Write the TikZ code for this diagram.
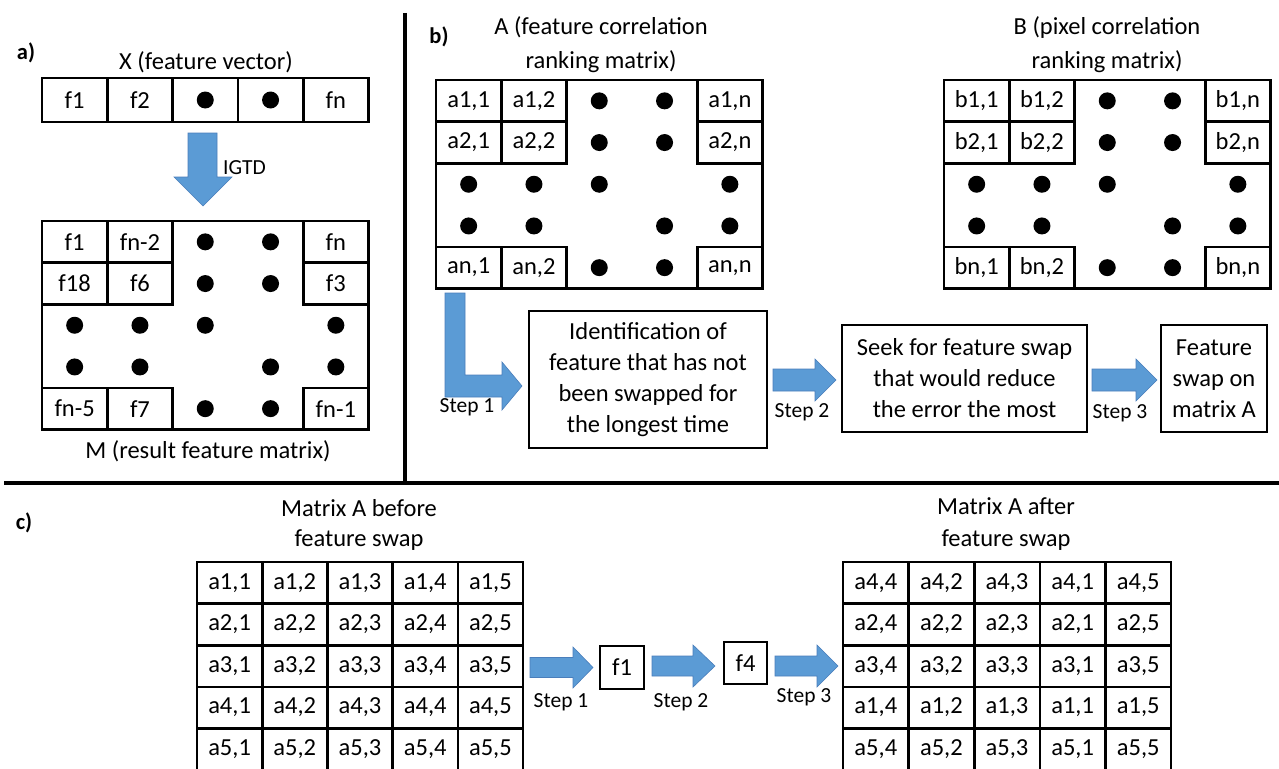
\documentclass[tikz,border=0pt]{standalone}
\usepackage{fontspec}
\setmainfont{Carlito}
\definecolor{arrowblue}{HTML}{5B9BD5}
\definecolor{arrowedge}{HTML}{4A7EBB}

% sparse matrix outline with the dot placeholders: #1 name prefix, #2 left, #3 top
\newcommand\sparsematrix[3]{%
  \draw[frame] (#2,#3) rectangle ++(326.5,208.5);
  \foreach \r/\c in {1/3,1/4,2/3,2/4,3/1,3/2,3/3,3/5,4/1,4/2,4/4,4/5,5/3,5/4}
    \node[dot] (#1-d\r\c) at ({#2+(\c-0.5)*65.3},{#3+(\r-0.5)*41.7}) {};
}
% horizontal block arrow: #1 tail x, #2 head base x, #3 tip x, #4 centre y,
% #5 half shaft height, #6 half head height
\newcommand\harrow[6]{%
  \path[blockarrow] ({#1},{#4-#5}) -- ({#2},{#4-#5}) -- ({#2},{#4-#6}) -- ({#3},{#4})
    -- ({#2},{#4+#6}) -- ({#2},{#4+#5}) -- ({#1},{#4+#5}) -- cycle;
}

\begin{document}
\begin{tikzpicture}[x=1pt,y=-1pt,
  txt/.style={font=\fontsize{24.5}{30}\selectfont, inner sep=0pt},
  steplbl/.style={font=\fontsize{21.5}{26}\selectfont, inner sep=0pt},
  panel/.style={font=\bfseries\fontsize{22.5}{27}\selectfont, inner sep=0pt},
  cell/.style={draw, line width=2.6pt, minimum width=65.3pt, minimum height=41.7pt,
    inner sep=0pt, font=\fontsize{24.5}{30}\selectfont},
  frame/.style={line width=2.6pt},
  dot/.style={circle, fill=black, minimum size=17pt, inner sep=0pt},
  textbox/.style={draw, line width=2.6pt, align=center, inner sep=0pt,
    font=\fontsize{24.5}{31}\selectfont},
  blockarrow/.style={fill=arrowblue, draw=arrowedge, line width=0.6pt},
  divider/.style={line width=3.5pt}]
\useasboundingbox[fill=white] (0,0) rectangle (1279,768);

% ---------------- panel dividers ----------------
\coordinate (vtop) at (405,13);
\coordinate (vbot) at (405,483);
\coordinate (hl) at (4,483);
\coordinate (hr) at (1279,483);
\draw[divider] (vtop) -- (vbot);
\draw[divider] (hl) -- (hr);

% ---------------- panel a ----------------
\node[panel] (la) at (26,53) {a)};
\node[txt] (xt) at (206,62) {X (feature vector)};
\foreach \c/\t in {1/f1,2/f2,3/{},4/{},5/fn}
  \node[cell, minimum height=44pt] (X-\c) at ({42+(\c-0.5)*65.3},100) {\t};
\node[dot] (X-d3) at (X-3) {};
\node[dot] (X-d4) at (X-4) {};

\path[blockarrow] (188,133) -- (217,133) -- (217,177) -- (232,177) -- (203,206)
  -- (174,177) -- (188,177) -- cycle;
\node[steplbl, anchor=west] (igtd) at (223,168) {IGTD};

\sparsematrix{M}{42}{221}
\foreach \r/\c/\t in {1/1/f1,1/2/fn-2,1/5/fn,2/1/f18,2/2/f6,2/5/f3,5/1/fn-5,5/2/f7,5/5/fn-1}
  \node[cell] (M-\r\c) at ({42+(\c-0.5)*65.3},{221+(\r-0.5)*41.7}) {\t};
\node[txt] (mt) at (208,451) {M (result feature matrix)};

% ---------------- panel b ----------------
\node[panel] (lb) at (439,37) {b)};
\node[txt, align=center, font=\fontsize{24.5}{34}\selectfont] (At) at (601,45)
  {A (feature correlation\\ranking matrix)};
\node[txt, align=center, font=\fontsize{24.5}{34}\selectfont] (Bt) at (1107,45)
  {B (pixel correlation\\ranking matrix)};

\sparsematrix{A}{436}{80}
\foreach \r/\rl in {1/1,2/2,5/n}
  \foreach \c/\cl in {1/1,2/2,5/n}
    \node[cell] (A-\r\c) at ({436+(\c-0.5)*65.3},{80+(\r-0.5)*41.7}) {a\rl,\cl};

\sparsematrix{B}{944}{80}
\foreach \r/\rl in {1/1,2/2,5/n}
  \foreach \c/\cl in {1/1,2/2,5/n}
    \node[cell] (B-\r\c) at ({944+(\c-0.5)*65.3},{80+(\r-0.5)*41.7}) {b\rl,\cl};

% L-shaped arrow from matrix A into the first step
\path[blockarrow] (445,293) -- (465,293) -- (465,375) -- (502,375) -- (502,362)
  -- (522,386) -- (502,410) -- (502,397) -- (445,397) -- cycle;
\node[steplbl] (bs1) at (467,407) {Step 1};

\node[textbox, minimum width=238pt, minimum height=137pt] (s1) at (648,379.5)
  {Identification of\\feature that has not\\been swapped for\\the longest time};
\harrow{773}{815}{836}{380}{11}{21}
\node[steplbl] (bs2) at (802,412) {Step 2};

\node[textbox, minimum width=245pt, minimum height=107pt] (s2) at (964.5,378.5)
  {Seek for feature swap\\that would reduce\\the error the most};
\harrow{1092}{1136}{1157}{380}{11}{21}
\node[steplbl] (bs3) at (1120,413) {Step 3};

\node[textbox, minimum width=106pt, minimum height=107pt] (s3) at (1214,378.5)
  {Feature\\swap on\\matrix A};

% ---------------- panel c ----------------
\node[panel] (lc) at (24,523) {c)};
\node[txt, align=center, font=\fontsize{24.5}{30}\selectfont] (Pt) at (359,525)
  {Matrix A before\\feature swap};
\node[txt, align=center, font=\fontsize{24.5}{32}\selectfont] (Qt) at (1006,524)
  {Matrix A after\\feature swap};

\foreach \r in {1,...,5}
  \foreach \c in {1,...,5}
    \node[cell, minimum width=65.2pt, minimum height=41.6pt] (P-\r\c)
      at ({197+(\c-0.5)*65.2},{562+(\r-0.5)*41.6}) {a\r,\c};

\foreach \r/\pr in {1/4,2/2,3/3,4/1,5/5}
  \foreach \c/\pc in {1/4,2/2,3/3,4/1,5/5}
    \node[cell, minimum width=65.6pt, minimum height=41.6pt] (Q-\r\c)
      at ({843+(\c-0.5)*65.6},{562+(\r-0.5)*41.6}) {a\pr,\pc};

\harrow{530}{573}{593}{667.5}{10}{20.5}
\node[steplbl] (cs1) at (561,702) {Step 1};
\node[cell, minimum width=44pt, minimum height=43pt] (f1) at (622,667.5) {f1};
\harrow{652}{693}{715}{666}{10}{21}
\node[steplbl] (cs2) at (681,702) {Step 2};
\node[cell, minimum width=43pt, minimum height=42pt] (f4) at (745.5,663) {f4};
\harrow{775}{817}{838}{666}{10}{21}
\node[steplbl] (cs3) at (804,697) {Step 3};
\end{tikzpicture}
\end{document}
